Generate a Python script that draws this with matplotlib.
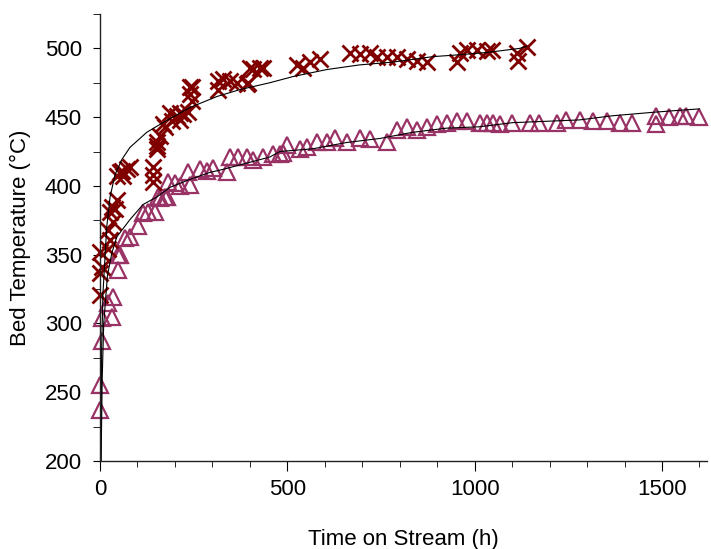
import matplotlib
matplotlib.use("Agg")
import matplotlib.pyplot as plt
from matplotlib.ticker import MultipleLocator

# bed temperature data
red_t = [0, 0, 5, 0, 21, 27, 21, 35, 27, 40,
         32, 45, 53, 61, 72, 80, 45, 59, 141, 141,
         141, 152, 152, 160, 173, 192, 205, 213, 221, 235,
         245, 240, 245, 315, 328, 347, 365, 395, 408, 427,
         315, 435, 525, 541, 560, 587, 667, 693, 720, 739,
         765, 792, 819, 845, 872, 952, 960, 979, 1005, 1032,
         1045, 1112, 1115, 1139,
         168, 187, 213, 240, 152, 392, 400]
red_T = [321, 337, 341, 352, 354, 361, 368, 374, 381, 383,
         385, 390, 410, 407, 412, 414, 407, 410.5, 414, 408,
         403, 431.6, 426.5, 436, 442.5, 447, 450.5, 448, 452, 454,
         461.5, 466.6, 471.6, 476, 477.5, 476, 475, 475, 484.8, 486,
         470, 486, 488, 486, 490, 492, 497, 495.7, 497, 494,
         494, 493.5, 492, 490.6, 490, 490, 497, 499, 499, 498,
         499, 497, 490.6, 500.8,
         445, 453, 453, 472, 429, 474, 486]

tri_t = [0, 0, 5, 5, 32, 35, 21, 48, 48, 53,
         67, 80, 101, 115, 128, 147, 155, 160, 179, 173,
         181, 200, 213, 240, 235, 267, 285, 301, 339, 347,
         368, 392, 408, 435, 461, 480, 488, 499, 533, 552,
         579, 605, 627, 659, 693, 720, 765, 792, 819, 845,
         872, 899, 925, 952, 979, 1013, 1032, 1048, 1067, 1101,
         1147, 1173, 1219, 1245, 1280, 1315, 1352, 1387, 1421, 1485,
         1485, 1520, 1547, 1565, 1600]
tri_T = [237, 255, 287, 304, 305, 319, 315, 339, 350, 350,
         362, 363, 371, 380.6, 381, 381, 392, 391.5, 392, 392,
         402.5, 402, 400, 401, 410, 412, 410.5, 413, 410, 420.7,
         420.7, 420.7, 419, 420.7, 423, 423, 424, 430, 426.5, 428,
         431.6, 431.6, 435, 432, 435, 434, 431.6, 441, 442.5, 441,
         443, 444.7, 446, 447, 447, 446, 446, 446, 444.7, 446,
         446, 446, 446, 448, 448, 447, 447, 446, 446, 450.5,
         444.7, 450, 450.5, 450.5, 450]

# fitted curves (black lines)
fit1_t = [2.5, 4.5, 8, 18, 27, 40, 59, 80, 125, 168, 240, 312, 373, 453,
          515, 605, 693, 781, 888, 941, 1032, 1120, 1139]
fit1_T = [200, 283, 322, 370, 392, 408, 419.5, 428, 439, 446, 457, 465, 470, 475,
          479.5, 484.6, 488, 490, 494, 495, 497, 500, 501.5]
fit2_t = [3, 6, 10, 20, 32, 45, 80, 115, 152, 187, 240, 293, 328, 453, 480,
          568, 659, 747, 835, 925, 1013, 1101, 1192, 1280, 1368, 1475, 1547, 1600]
fit2_T = [200, 260, 300, 335, 351.5, 363, 375.5, 386.5, 392, 399, 404.7, 409.8, 412, 421, 425,
          427, 431.6, 434.5, 439, 442, 443, 446, 447, 448, 451, 453.5, 455, 456]

plt.rcParams['font.family'] = ['Liberation Sans', 'DejaVu Sans']

fig = plt.figure(figsize=(7.11, 5.49), dpi=100)
ax = fig.add_axes([0.1406, 0.1603, 0.8537, 0.8142])

ax.plot(tri_t, tri_T, linestyle='none', marker='^', markersize=11,
        markerfacecolor='none', markeredgecolor='#993366', markeredgewidth=1.6,
        clip_on=False)
ax.plot(red_t, red_T, linestyle='none', marker='x', markersize=12,
        markeredgecolor='#800000', markeredgewidth=2.0, clip_on=False)
ax.plot(fit1_t, fit1_T, color='black', linewidth=0.8)
ax.plot(fit2_t, fit2_T, color='black', linewidth=0.8)

ax.set_xlim(0, 1620)
ax.set_ylim(200, 525)
ax.xaxis.set_major_locator(MultipleLocator(500))
ax.xaxis.set_minor_locator(MultipleLocator(100))
ax.yaxis.set_major_locator(MultipleLocator(50))
ax.yaxis.set_minor_locator(MultipleLocator(25))
ax.set_yticks([200, 250, 300, 350, 400, 450, 500])

for s in ['top', 'right']:
    ax.spines[s].set_visible(False)
for s in ['left', 'bottom']:
    ax.spines[s].set_color('#222222')
    ax.spines[s].set_linewidth(1.0)

ax.tick_params(axis='x', which='major', length=7, labelsize=16, pad=6)
ax.tick_params(axis='x', which='minor', length=4)
ax.tick_params(axis='y', which='both', length=5, labelsize=16, pad=8)

ax.set_xlabel('Time on Stream (h)', fontsize=16, labelpad=21)
ax.set_ylabel('Bed Temperature (\u00b0C)', fontsize=16, labelpad=10)

fig.savefig('out.png', dpi=100)
